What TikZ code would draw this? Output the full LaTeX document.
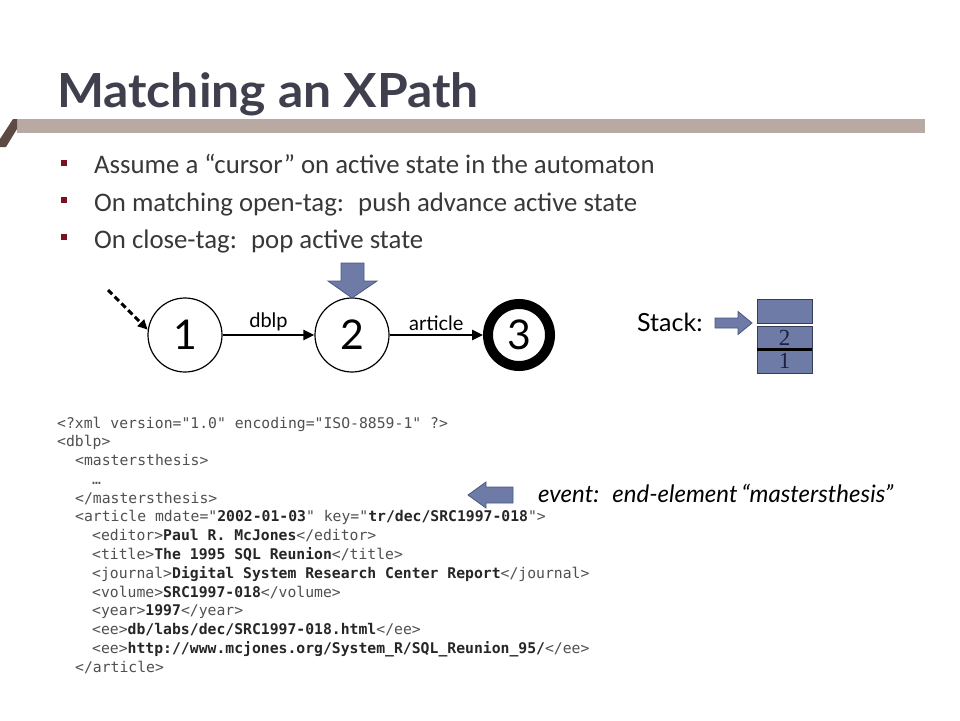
\documentclass[tikz,border=0pt]{standalone}
\usepackage{fontspec}
\setmainfont{Carlito}
\setmonofont{DejaVu Sans Mono}
\newfontfamily\gill{Lato}
\newfontfamily\serifnum{Liberation Serif}
\usetikzlibrary{arrows.meta}
\definecolor{titlecol}{HTML}{3F3F4D}
\definecolor{barcol}{HTML}{B8A9A3}
\definecolor{accentcol}{HTML}{5E4A44}
\definecolor{bulcol}{HTML}{7A1020}
\definecolor{bodytext}{HTML}{383838}
\definecolor{blockfill}{HTML}{6D7BA6}
\definecolor{blockdraw}{HTML}{4A5880}
\definecolor{tagcol}{HTML}{505050}
\definecolor{valcol}{HTML}{262626}
\definecolor{numcol}{HTML}{1E2040}
\tikzset{
  bullettext/.style={anchor=base west, inner sep=0, text=bodytext, font=\fontsize{26.8}{30}\selectfont},
  bulletsq/.style={fill=bulcol},
  state/.style={circle, draw=black, line width=1.2pt, minimum size=74pt, inner sep=0,
    font=\gill\fontsize{41}{41}\selectfont},
  finalstate/.style={circle, draw=black, line width=10pt, minimum size=62pt, inner sep=0,
    font=\gill\fontsize{41}{41}\selectfont},
  edge/.style={line width=2.5pt, -{Triangle[length=11pt,width=10pt]}},
  elabel/.style={font=\gill\fontsize{20}{20}\selectfont, inner sep=0, above=3pt},
  blockarrow/.style={fill=blockfill, draw=blockdraw, line width=0.8pt},
  stackbox/.style={fill=blockfill, draw=blockdraw!70!black, line width=0.8pt, minimum width=55pt,
    inner sep=0, font=\serifnum\fontsize{23}{23}\selectfont, text=numcol},
  code/.style={anchor=base west, inner sep=0, text=tagcol, font=\ttfamily\fontsize{14.75}{16}\selectfont},
}
\newcommand{\vb}[1]{\textcolor{valcol}{\bfseries #1}}
\begin{document}
\begin{tikzpicture}[x=1pt,y=-1pt]
\useasboundingbox (0,0) rectangle (960,720);
\fill[white] (0,0) rectangle (960,720);

% title and bar
\node[anchor=base west, inner sep=0, text=titlecol, font=\gill\bfseries\fontsize{47}{50}\selectfont] (title) at (57,107) {\scalebox{1.06}[1]{Matching an XPath}};
\fill[barcol] (17,119) rectangle (925,133);
\fill[accentcol] (13,119) -- (17,119) -- (17,129) -- (6,147) -- (0,147) -- (0,139) -- cycle;

% bullets
\fill[bulletsq] (61,160) rectangle (67,166);
\fill[bulletsq] (61,197) rectangle (67,203);
\fill[bulletsq] (61,234) rectangle (67,240);
\node[bullettext] (b1) at (94,173) {Assume a “cursor” on active state in the automaton};
\node[bullettext] (b2) at (94,211) {On matching open-tag:~ push advance active state};
\node[bullettext] (b3) at (94,248) {On close-tag:~ pop active state};

% automaton
\node[state] (n1) at (185,335) {1};
\node[state] (n2) at (352,335) {2};
\node[finalstate] (n3) at (519,335) {3};
\coordinate (init) at (108,290);
\draw[line width=3pt, dash pattern=on 6pt off 3.5pt, -{Triangle[length=10pt,width=9pt]}] (init) -- (n1.172);
\draw[edge] (n1) -- node[elabel] {dblp} (n2);
\draw[edge] (n2) -- node[elabel] {article} (n3);

% cursor arrow
\draw[blockarrow] (341,263) -- (364,263) -- (364,281) -- (377,281) -- (352,298) -- (328,281) -- (341,281) -- cycle;

% stack
\node[anchor=west, inner sep=0, font=\gill\fontsize{25}{25}\selectfont] (stacklbl) at (637,322) {Stack:};
\draw[blockarrow] (715,318) -- (738,318) -- (738,311.5) -- (752,323) -- (738,334.5) -- (738,328) -- (715,328) -- cycle;
\node[stackbox, minimum height=24pt] (s0) at (784.5,311) {};
\node[stackbox, minimum height=23pt] (s2) at (784.5,337.5) {2};
\node[stackbox, minimum height=24pt] (s1) at (784.5,361) {1};
\draw[line width=2.2pt] (s2.south west) -- (s2.south east);

% xml
\node[code] (l1) at (57,428.0) {<?xml version="1.0" encoding="ISO-8859-1" ?>};
\node[code] (l2) at (57,446.8) {<dblp>};
\node[code] (l3) at (75,465.5) {<mastersthesis>};
\node[code] (l4) at (92,484.3) {…};
\node[code] (l5) at (75,503.1) {</mastersthesis>};
\node[code] (l6) at (75,521.9) {<article mdate="\vb{2002-01-03}" key="\vb{tr/dec/SRC1997-018}">};
\node[code] (l7) at (92,540.6) {<editor>\vb{Paul R. McJones}</editor>};
\node[code] (l8) at (92,559.4) {<title>\vb{The 1995 SQL Reunion}</title>};
\node[code] (l9) at (92,578.2) {<journal>\vb{Digital System Research Center Report}</journal>};
\node[code] (l10) at (92,597.0) {<volume>\vb{SRC1997-018}</volume>};
\node[code] (l11) at (92,615.7) {<year>\vb{1997}</year>};
\node[code] (l12) at (92,634.5) {<ee>\vb{db/labs/dec/SRC1997-018.html}</ee>};
\node[code] (l13) at (92,653.3) {<ee>\vb{http://www.mcjones.org/System\_R/SQL\_Reunion\_95/}</ee>};
\node[code] (l14) at (75,672.0) {</article>};

% event
\draw[blockarrow] (513,487) -- (486,487) -- (486,482) -- (468,495) -- (486,508) -- (486,503) -- (513,503) -- cycle;
\node[anchor=base west, inner sep=0, font=\gill\itshape\fontsize{24}{24}\selectfont] (event) at (538,502) {event:~ end-element\,“mastersthesis”};
\end{tikzpicture}
\end{document}
